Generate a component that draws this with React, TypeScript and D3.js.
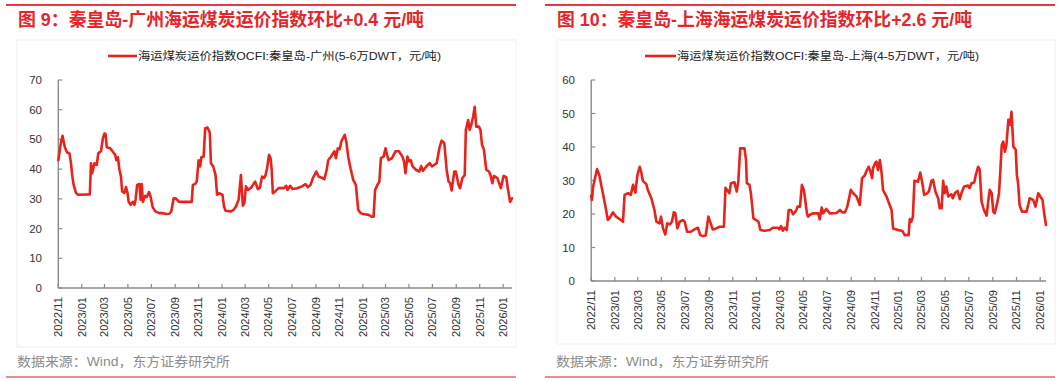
import React from 'react';
import * as d3 from 'd3';

const xTickLabels = ["2022/11","2023/01","2023/03","2023/05","2023/07","2023/09","2023/11","2024/01","2024/03","2024/05","2024/07","2024/09","2024/11","2025/01","2025/03","2025/05","2025/07","2025/09","2025/11","2026/01"];
const leftYTicks = [0, 10, 20, 30, 40, 50, 60, 70];
const rightYTicks = [0, 10, 20, 30, 40, 50, 60];

const leftTitle = "图 9：秦皇岛-广州海运煤炭运价指数环比+0.4 元/吨";
const rightTitle = "图 10：秦皇岛-上海海运煤炭运价指数环比+2.6 元/吨";
const leftLegend = "海运煤炭运价指数OCFI:秦皇岛-广州(5-6万DWT，元/吨)";
const rightLegend = "海运煤炭运价指数OCFI:秦皇岛-上海(4-5万DWT，元/吨)";
const sourceText = "数据来源：Wind，东方证券研究所";

const leftDates = ["2022-11-01","2022-11-08","2022-11-12","2022-11-18","2022-11-24","2022-11-30","2022-12-04","2022-12-07","2022-12-11","2022-12-17","2022-12-23","2023-01-22","2023-01-25","2023-01-28","2023-02-03","2023-02-09","2023-02-13","2023-02-20","2023-02-25","2023-03-01","2023-03-04","2023-03-07","2023-03-16","2023-03-22","2023-03-29","2023-04-01","2023-04-05","2023-04-09","2023-04-13","2023-04-16","2023-04-22","2023-04-26","2023-04-30","2023-05-03","2023-05-08","2023-05-14","2023-05-18","2023-05-21","2023-05-25","2023-05-31","2023-06-03","2023-06-06","2023-06-09","2023-06-15","2023-06-19","2023-06-25","2023-06-29","2023-07-04","2023-07-11","2023-07-22","2023-07-30","2023-08-08","2023-08-17","2023-08-22","2023-08-28","2023-09-04","2023-09-11","2023-09-22","2023-10-05","2023-10-14","2023-10-17","2023-10-23","2023-10-27","2023-11-01","2023-11-05","2023-11-08","2023-11-14","2023-11-18","2023-11-24","2023-11-30","2023-12-03","2023-12-09","2023-12-15","2023-12-19","2023-12-24","2024-01-02","2024-01-06","2024-01-10","2024-01-24","2024-01-31","2024-02-06","2024-02-13","2024-02-19","2024-02-24","2024-02-28","2024-03-03","2024-03-08","2024-03-17","2024-03-24","2024-03-27","2024-04-03","2024-04-08","2024-04-14","2024-04-19","2024-04-23","2024-04-27","2024-05-02","2024-05-06","2024-05-09","2024-05-12","2024-05-18","2024-05-27","2024-06-09","2024-06-16","2024-06-19","2024-06-26","2024-07-02","2024-07-14","2024-07-27","2024-08-05","2024-08-11","2024-08-18","2024-08-24","2024-09-02","2024-09-08","2024-09-18","2024-09-23","2024-09-29","2024-10-03","2024-10-10","2024-10-19","2024-10-23","2024-10-28","2024-11-02","2024-11-06","2024-11-15","2024-11-19","2024-11-24","2024-11-30","2024-12-07","2024-12-14","2024-12-20","2024-12-26","2025-01-02","2025-01-16","2025-01-24","2025-01-29","2025-02-02","2025-02-08","2025-02-13","2025-02-17","2025-02-24","2025-03-01","2025-03-05","2025-03-09","2025-03-18","2025-03-27","2025-04-05","2025-04-14","2025-04-18","2025-04-22","2025-04-27","2025-05-02","2025-05-06","2025-05-10","2025-05-19","2025-05-28","2025-06-02","2025-06-06","2025-06-15","2025-06-24","2025-06-30","2025-07-12","2025-07-20","2025-07-25","2025-08-01","2025-08-07","2025-08-12","2025-08-16","2025-08-20","2025-08-27","2025-08-31","2025-09-07","2025-09-11","2025-09-17","2025-09-23","2025-09-26","2025-10-02","2025-10-06","2025-10-10","2025-10-15","2025-10-19","2025-10-23","2025-10-30","2025-11-03","2025-11-07","2025-11-12","2025-11-18","2025-11-25","2025-11-29","2025-12-04","2025-12-08","2025-12-17","2025-12-26","2026-01-02","2026-01-09","2026-01-13","2026-01-19","2026-01-24"];
const leftValues = [43,49,51.2,47.4,45.6,45.3,42,38,34.7,32,31.4,31.5,42,38.6,42,41.4,45.3,46,50.4,52,51.8,47.4,47,46,44.8,43,44,39.8,37.5,32.5,32,34,32,29,28,29,28,29.7,34.7,35,29.7,35,29,31,30.6,32.3,30.8,27.4,25.8,25.2,25.2,24.9,25,25.8,30.2,30,29,29,29,29,34.7,35,35.8,43,40.9,44,44.2,53.8,54,52.3,42,40.9,38,31.4,31.9,31.4,27.4,26,25.8,26.3,27.4,29.7,38,27.7,28.6,34.2,33,33.8,35.3,35.8,33.3,33.6,37.5,37,38,40.3,44.8,43.7,39.8,31.9,32.5,33.6,33.6,34.4,33,34.4,33.3,33.6,34.2,35,33.9,34.7,37,39.2,37.5,37,36.6,39.8,43,44.2,46,43.7,47,46.7,49.3,51.5,49.3,44.2,40.3,36.4,34.7,26.3,25.2,24.9,24.6,24,24,33,34.7,35.8,43.7,44.2,47,44.8,43,43.7,46,46,44.2,42.6,38.6,44.2,42.6,43,41,39.8,39.2,41,39.4,40.9,42,40.9,42,47.6,49.6,48.7,39.8,35.8,35.3,32.8,39.2,39.2,34.7,33.6,37,38,53.2,56.5,53.2,54.9,57.7,61,54.3,54.3,53.2,48.2,46.5,39.8,39.2,38,35.3,37.7,37,33.6,37.7,37.3,33.6,29,30.2];

const rightDates = ["2022-11-01","2022-11-03","2022-11-06","2022-11-16","2022-11-22","2022-12-01","2022-12-07","2022-12-14","2022-12-19","2022-12-27","2023-01-04","2023-01-13","2023-01-22","2023-01-26","2023-02-04","2023-02-11","2023-02-17","2023-02-23","2023-02-28","2023-03-06","2023-03-10","2023-03-14","2023-03-23","2023-03-27","2023-04-05","2023-04-13","2023-04-18","2023-04-26","2023-04-30","2023-05-05","2023-05-11","2023-05-16","2023-05-23","2023-05-28","2023-06-02","2023-06-06","2023-06-11","2023-06-17","2023-06-25","2023-06-30","2023-07-06","2023-07-16","2023-07-25","2023-08-03","2023-08-09","2023-08-16","2023-08-23","2023-08-30","2023-09-05","2023-09-10","2023-09-19","2023-09-28","2023-10-09","2023-10-13","2023-10-23","2023-10-27","2023-11-05","2023-11-11","2023-11-15","2023-11-20","2023-12-01","2023-12-05","2023-12-07","2023-12-14","2023-12-18","2023-12-24","2023-12-31","2024-01-06","2024-01-11","2024-01-22","2024-02-04","2024-02-12","2024-02-25","2024-02-29","2024-03-04","2024-03-09","2024-03-13","2024-03-19","2024-03-24","2024-03-30","2024-04-04","2024-04-12","2024-04-16","2024-04-22","2024-04-27","2024-05-02","2024-05-05","2024-05-10","2024-05-13","2024-05-17","2024-05-25","2024-06-08","2024-06-12","2024-06-17","2024-06-21","2024-06-29","2024-07-08","2024-07-25","2024-08-03","2024-08-09","2024-08-16","2024-08-22","2024-08-31","2024-09-06","2024-09-15","2024-09-23","2024-09-29","2024-10-06","2024-10-10","2024-10-16","2024-10-21","2024-10-25","2024-10-27","2024-11-01","2024-11-05","2024-11-09","2024-11-14","2024-11-18","2024-11-22","2024-12-01","2024-12-14","2024-12-18","2024-12-31","2025-01-11","2025-01-17","2025-01-27","2025-01-30","2025-02-03","2025-02-07","2025-02-11","2025-02-20","2025-02-26","2025-03-03","2025-03-08","2025-03-14","2025-03-20","2025-03-27","2025-03-31","2025-04-06","2025-04-13","2025-04-17","2025-04-22","2025-04-26","2025-04-30","2025-05-04","2025-05-09","2025-05-17","2025-05-21","2025-05-26","2025-06-02","2025-06-08","2025-06-12","2025-06-19","2025-06-29","2025-07-03","2025-07-08","2025-07-15","2025-07-19","2025-07-25","2025-07-29","2025-08-03","2025-08-09","2025-08-16","2025-08-20","2025-08-24","2025-08-29","2025-09-02","2025-09-06","2025-09-13","2025-09-17","2025-09-24","2025-09-28","2025-10-02","2025-10-06","2025-10-11","2025-10-15","2025-10-19","2025-10-24","2025-10-30","2025-11-02","2025-11-05","2025-11-09","2025-11-15","2025-11-27","2025-12-01","2025-12-05","2025-12-14","2025-12-20","2025-12-27","2026-01-07","2026-01-12","2026-01-16"];
const rightValues = [25.5,24.2,28.2,33.4,31.6,26.2,22.7,18.2,18.9,20.5,19.2,18.5,17.7,25.7,26.2,25.7,28.7,26.4,31.6,34.1,32.5,29.9,28.9,27.2,24.7,21.2,17.7,17.2,19.2,15.7,13.9,17.2,16.9,17.7,20.5,20.2,15.7,17.7,18.2,17.7,14.7,14.7,15.4,15.9,13.7,13.4,13.6,19.2,17.2,15.4,15.7,16.2,16.2,27.8,26.2,29.2,29.5,26.7,29.6,39.6,39.6,36.1,29.2,28.7,25.7,18.7,18.2,17.7,15.2,15,15.2,15.9,15.9,15.4,16.4,15,15.9,15.2,21.2,21.2,19.9,21,22.2,22.2,28.7,27.2,24.7,20.2,19.2,19.7,20.2,20.2,18.4,21.9,20.2,21.5,20.2,20.3,21.2,20.5,20.5,22.2,27.2,26.2,25.2,22.7,30.7,31.5,32.8,34.1,32.5,30.7,33.6,35.1,35.6,33.1,36.1,32.6,27.2,25.2,21.2,15.7,15.2,14.9,13.7,13.7,18.5,17.7,19.2,29.9,29.6,32.4,29.4,25.7,26,26.7,29.9,30.2,26.7,24.7,21.7,21.7,29.9,26.2,28.2,25.2,25.9,24.7,26.2,26.9,24.4,26.2,28.2,28.5,27.7,29.2,29.4,31.6,34.1,33.3,23.7,21.2,19.5,23.7,27.2,26.2,20.7,20.2,23.7,26.2,40.6,41.6,38.6,40.6,48.1,46.6,50.5,40.1,39.2,31.6,29.2,22.7,20.7,20.7,22.7,24.7,24.2,22.2,26.2,24.2,19.7,16.7];

const parseDay = d3.timeParse("%Y-%m-%d");
const parseTick = d3.timeParse("%Y/%m");

const RED_LINE = "#e8231c";
const TITLE_RED = "#e4262b";
const AXIS = "#8a8a8a";
const FONT = "'Liberation Sans', Arial, 'Noto Sans CJK SC', sans-serif";
const CJK = "'Liberation Sans', 'Noto Sans CJK SC', sans-serif";

type PanelProps = {
  title: string; titleLen: number;
  legend: string; legendLen: number;
  dates: string[]; values: number[];
  yTicks: number[];
  endDate: string;
  ruleX0: number; ruleX1: number;
  titleX: number;
  frame: [number, number, number, number];
  legX0: number; legX1: number;
  px0: number; px1: number; py0: number; py1: number;
  yLabelX: number; xLabelY: number;
  srcX: number;
};

function Panel(p: PanelProps) {
  const x = d3.scaleTime().domain([parseDay("2022-11-01")!, parseDay(p.endDate)!]).range([p.px0, p.px1]);
  const yMax = p.yTicks[p.yTicks.length - 1];
  const y = d3.scaleLinear().domain([0, yMax]).range([p.py0, p.py1]);
  const pts = p.dates.map((d, i) => [parseDay(d)!, p.values[i]] as [Date, number]);
  const line = d3.line<[Date, number]>().x(d => x(d[0])).y(d => y(d[1]));
  const [fx0, fy0, fx1, fy1] = p.frame;
  return (
    <g>
      <line x1={p.ruleX0} x2={p.ruleX1} y1={5} y2={5} stroke="#e8383d" strokeWidth={2} />
      <text x={p.titleX} y={26} fontSize={18} fontWeight="bold" fill={TITLE_RED} fontFamily={CJK}
        textLength={p.titleLen} lengthAdjust="spacingAndGlyphs">{p.title}</text>
      <rect x={fx0} y={fy0} width={fx1 - fx0} height={fy1 - fy0} fill="none" stroke="#efefef" strokeWidth={1} />
      <line x1={p.legX0} x2={p.legX1} y1={56} y2={56} stroke={RED_LINE} strokeWidth={2.6} />
      <text x={p.legX1 + 1} y={60} fontSize={11} fill="#222" fontFamily={CJK}
        textLength={p.legendLen} lengthAdjust="spacingAndGlyphs">{p.legend}</text>
      {/* axes */}
      <line x1={p.px0} x2={p.px0} y1={p.py0} y2={p.py1} stroke={AXIS} strokeWidth={1.4} />
      <line x1={p.px0} x2={p.px1} y1={p.py0} y2={p.py0} stroke={AXIS} strokeWidth={1.4} />
      {p.yTicks.map(t => (
        <g key={"y" + t}>
          <line x1={p.px0} x2={p.px0 + 4} y1={y(t)} y2={y(t)} stroke={AXIS} strokeWidth={1.2} />
          <text x={p.yLabelX} y={y(t)} dy="0.35em" textAnchor="end" fontSize={11.5} fill="#333" fontFamily={FONT}>{t}</text>
        </g>
      ))}
      {xTickLabels.map(lbl => {
        const tx = x(parseTick(lbl)!);
        return (
          <g key={lbl}>
            <line x1={tx} x2={tx} y1={p.py0} y2={p.py0 - 4} stroke={AXIS} strokeWidth={1.2} />
            <text transform={`translate(${tx},${p.xLabelY}) rotate(-90)`} dy="0.35em" textAnchor="end"
              fontSize={11} fill="#333" fontFamily={FONT} textLength={40} lengthAdjust="spacingAndGlyphs">{lbl}</text>
          </g>
        );
      })}
      <path d={line(pts) || ""} fill="none" stroke={RED_LINE} strokeWidth={2.6} strokeLinejoin="round" strokeLinecap="round" />
      <text x={p.srcX} y={366} fontSize={13} fill="#8c8c8c" fontFamily={CJK}
        textLength={213} lengthAdjust="spacingAndGlyphs">{sourceText}</text>
      <line x1={p.ruleX0} x2={p.ruleX1} y1={377} y2={377} stroke="#f08c8c" strokeWidth={2} />
    </g>
  );
}

export default function App() {
  return (
    <svg width={1061} height={382} style={{ position: 'absolute', left: 0, top: 0, display: 'block', background: '#fff' }}>
      <rect x={0} y={0} width={1061} height={382} fill="#fff" />
      <Panel title={leftTitle} titleLen={406} legend={leftLegend} legendLen={303}
        dates={leftDates} values={leftValues} yTicks={leftYTicks} endDate="2026-01-24"
        ruleX0={6} ruleX1={516} titleX={18} frame={[17, 40, 516, 347]}
        legX0={108} legX1={137} px0={58.3} px1={512} py0={288} py1={80}
        yLabelX={42} xLabelY={297} srcX={17} />
      <Panel title={rightTitle} titleLen={415} legend={rightLegend} legendLen={302}
        dates={rightDates} values={rightValues} yTicks={rightYTicks} endDate="2026-01-16"
        ruleX0={545} ruleX1={1055} titleX={557} frame={[557, 40, 1055, 344]}
        legX0={645} legX1={676} px0={591.2} px1={1046} py0={281} py1={80}
        yLabelX={575} xLabelY={290} srcX={556} />
    </svg>
  );
}
